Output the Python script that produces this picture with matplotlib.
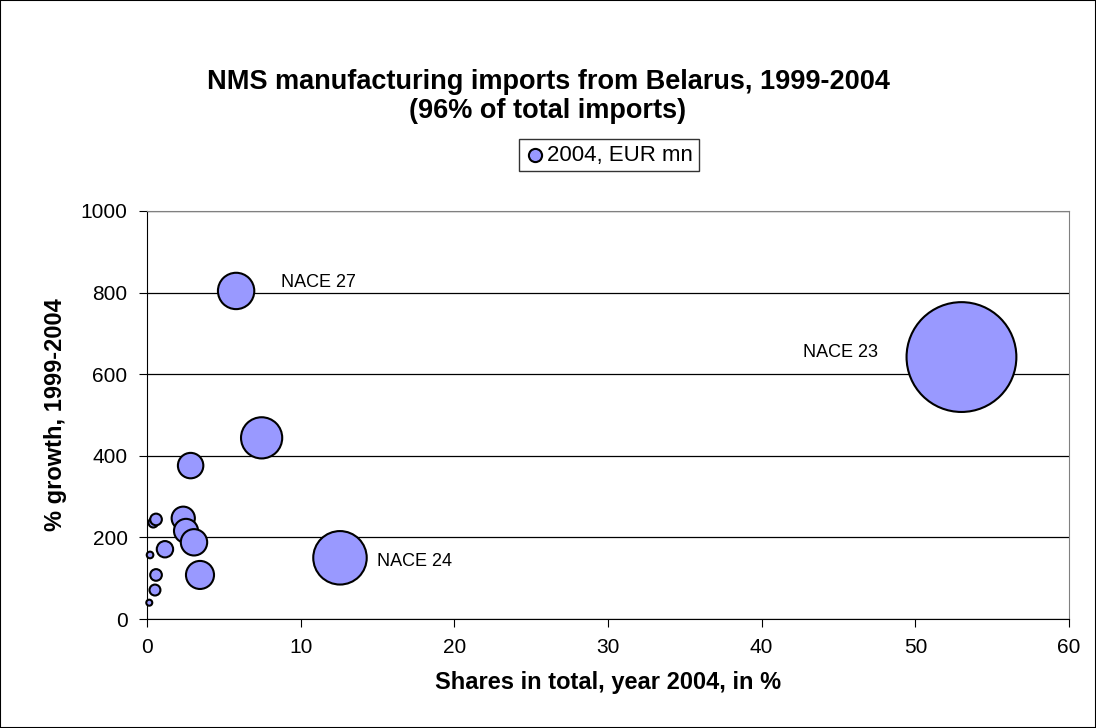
import matplotlib
matplotlib.use("Agg")
import matplotlib.pyplot as plt
from matplotlib.patches import Rectangle

plt.rcParams['font.family'] = ['Liberation Sans', 'DejaVu Sans']

# Data
share_2004 = [0.15, 0.2, 0.41, 0.59, 0.52, 0.59, 1.17, 2.36, 2.54, 3.06, 3.45, 2.84, 7.46, 5.8, 12.56, 53.0]
growth_99_04 = [40, 157, 236, 244, 71, 108, 171, 247, 216, 188, 108, 376, 444, 804, 150, 642]
value_2004 = [0.9, 1.1, 2.3, 3.4, 3.0, 3.4, 6.7, 13.5, 14.5, 17.4, 19.7, 16.2, 42.5, 33.1, 71.6, 302.0]
labels = {13: "NACE 27", 14: "NACE 24", 15: "NACE 23"}

fig = plt.figure(figsize=(10.96, 7.28), dpi=100)
fig.patches.append(Rectangle((0, 0), 1, 1, transform=fig.transFigure, fill=False,
                             edgecolor="black", linewidth=1.5))
ax = fig.add_axes([0.1341, 0.1497, 0.9754 - 0.1341, 0.7102 - 0.1497])

sizes = [v * 20.7 for v in value_2004]
ax.scatter(share_2004, growth_99_04, s=sizes, facecolor="#9999FF", edgecolor="black",
           linewidth=1.5, zorder=3, label="2004, EUR mn", clip_on=False)

ax.set_xlim(0, 60)
ax.set_ylim(0, 1000)
ax.set_xticks(range(0, 61, 10))
ax.set_yticks(range(0, 1001, 200))
ax.yaxis.grid(True, color="black", linewidth=0.9)
ax.set_axisbelow(True)
for sp in ["top", "right"]:
    ax.spines[sp].set_color("#808080")
for sp in ["left", "bottom"]:
    ax.spines[sp].set_color("black")
ax.tick_params(direction="out", length=6, labelsize=15, color="black", pad=8)

ax.set_xlabel("Shares in total, year 2004, in %", fontsize=17, fontweight="bold", labelpad=10)
ax.set_ylabel("% growth, 1999-2004", fontsize=17, fontweight="bold", labelpad=10)

# annotations
ax.annotate(labels[13], (share_2004[13], growth_99_04[13]), xytext=(32, 6),
            textcoords="offset points", fontsize=13, ha="left", va="center")
ax.annotate(labels[14], (share_2004[14], growth_99_04[14]), xytext=(27, -3),
            textcoords="offset points", fontsize=13, ha="left", va="center")
ax.annotate(labels[15], (share_2004[15], growth_99_04[15]), xytext=(-60, 3),
            textcoords="offset points", fontsize=13, ha="right", va="center")

fig.text(0.5, 0.867, "NMS manufacturing imports from Belarus, 1999-2004\n(96% of total imports)",
         ha="center", va="center", fontsize=19.5, fontweight="bold", linespacing=1.15)

leg = fig.legend(loc="center", bbox_to_anchor=(0.5556, 0.787), fontsize=16, frameon=True,
                 fancybox=False, edgecolor="black", markerscale=1, handletextpad=0.1,
                 borderpad=0.25, handlelength=0.9, markerfirst=True, borderaxespad=0)
leg.get_frame().set_linewidth(1.0)
for h in leg.legend_handles:
    h.set_sizes([90])

fig.savefig("out.png", dpi=100)
